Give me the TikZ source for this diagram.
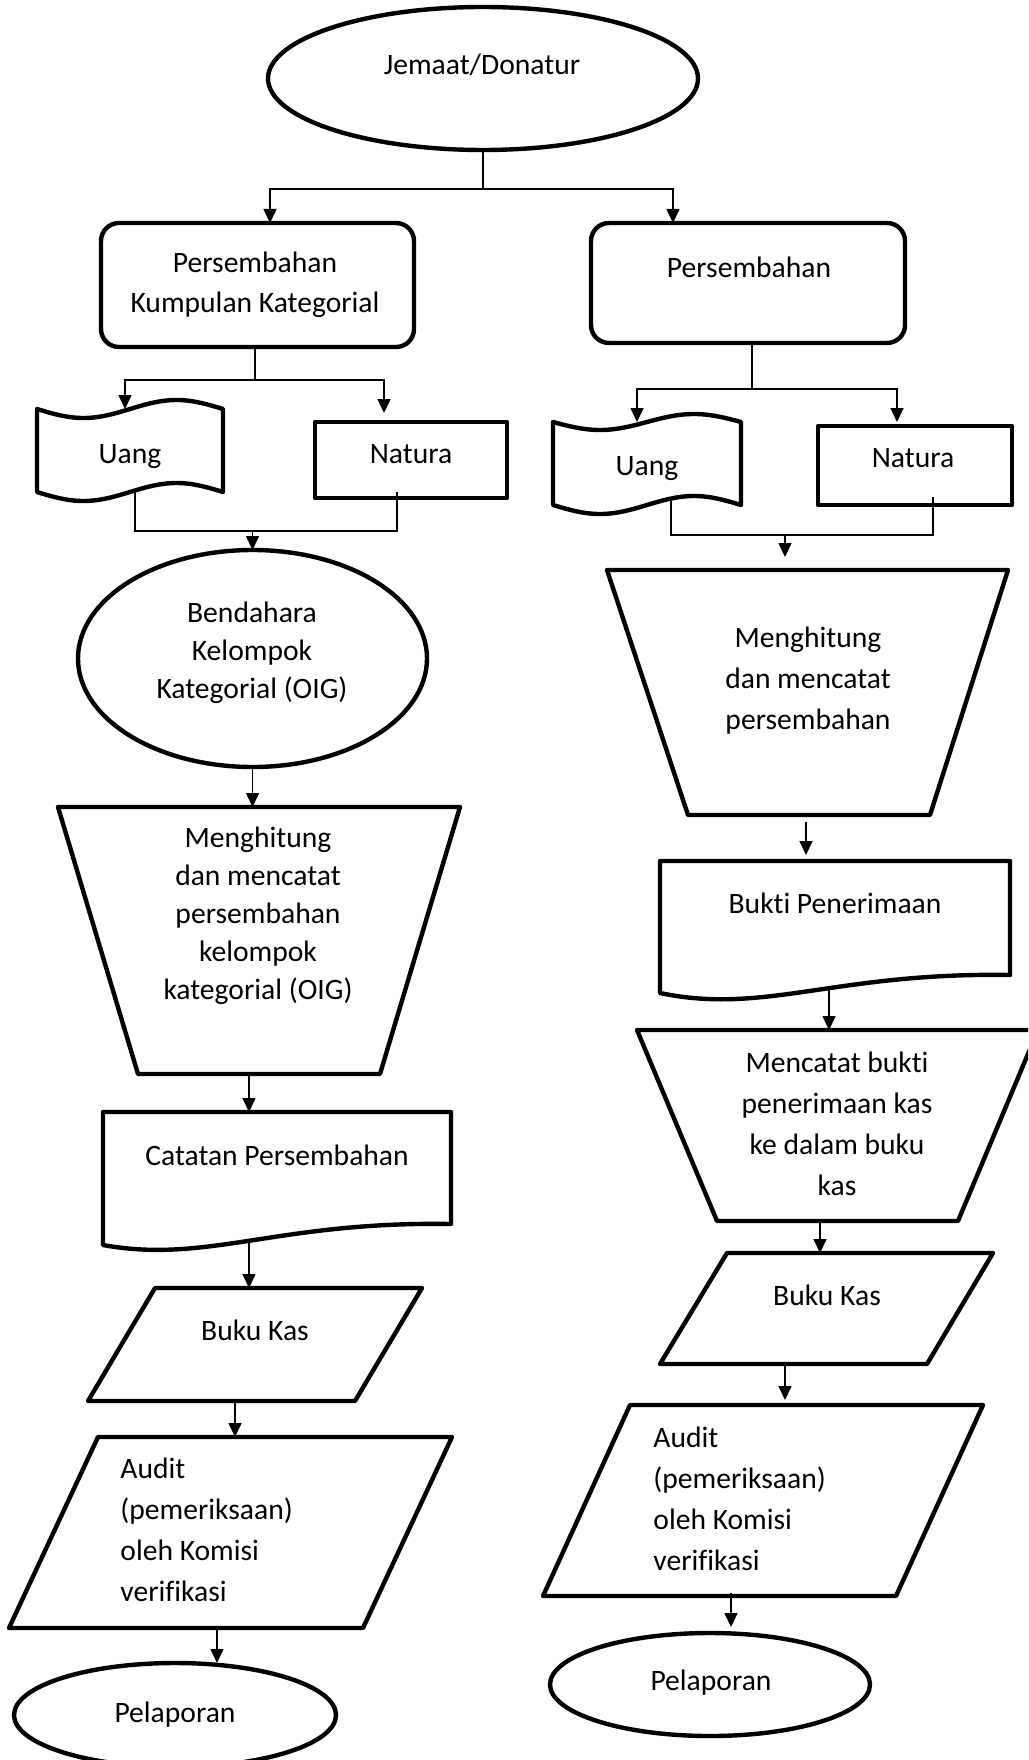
\documentclass[tikz,border=0pt]{standalone}
\usepackage{fontspec}
\setmainfont{Carlito}[Ligatures=NoCommon]
\usetikzlibrary{shapes.geometric,arrows.meta}
\newcommand{\ts}{\rule{0pt}{11.8pt}}
\begin{document}
\begin{tikzpicture}[x=0.5pt,y=-0.5pt,
  outline/.style={draw=black,line width=2.2pt,line join=round},
  box/.style={rectangle,inner sep=0pt,outer sep=0pt},
  shp/.style={outline,inner sep=0pt,outer sep=0pt},
  txt/.style={font={\fontsize{14.8pt}{20.5pt}\selectfont},align=center,inner sep=0pt,anchor=north},
  txtn/.style={font={\fontsize{14.8pt}{19pt}\selectfont},align=center,inner sep=0pt,anchor=north},
  txtl/.style={font={\fontsize{14.8pt}{20.5pt}\selectfont},align=left,inner sep=0pt,anchor=north west},
  link/.style={draw=black,line width=0.8pt},
  arr/.style={link,-{Triangle[length=7pt,width=6.5pt]}}]
\useasboundingbox (0,0) rectangle (1028,1760);
\fill[white] (0,0) rectangle (1028,1760);
\clip (0,0) rectangle (1028,1760);

% ---------- shapes ----------
\node[shp,ellipse,minimum width=215pt,minimum height=71.5pt] (jem) at (483,78.5) {};
\node[shp,rounded corners=9pt,minimum width=156.5pt,minimum height=62pt] (pkk) at (257.5,285) {};
\node[shp,rounded corners=9pt,minimum width=157pt,minimum height=60pt] (pr) at (748,283) {};

% punched-tape shapes (Uang)
\node[box,minimum width=93pt,minimum height=41.5pt] (uang1) at (130,450.5) {};
\draw[outline] (37,409) sin (83.5,418) cos (130,409) sin (176.5,400) cos (223,409)
  -- (223,492) sin (176.5,483) cos (130,492) sin (83.5,501) cos (37,492) -- cycle;
\node[box,minimum width=94pt,minimum height=41.5pt] (uang2) at (647,463.5) {};
\draw[outline] (553,422) sin (600,430) cos (647,422) sin (694,414) cos (741,422)
  -- (741,505) sin (694,496) cos (647,505) sin (600,514) cos (553,505) -- cycle;

\node[shp,minimum width=96pt,minimum height=38pt] (nat1) at (411,460) {};
\node[shp,minimum width=97pt,minimum height=39.5pt] (nat2) at (915,465.5) {};

\node[shp,ellipse,minimum width=174.5pt,minimum height=108.5pt] (bend) at (252.5,658.5) {};

% manual operations (trapezoids)
\node[box,minimum width=201pt,minimum height=133.5pt] (t1) at (259,940.5) {};
\draw[outline] (58,807) -- (460,807) -- (380,1074) -- (138,1074) -- cycle;
\node[box,minimum width=200.5pt,minimum height=122.5pt] (t2) at (807.5,692.5) {};
\draw[outline] (607,570) -- (1008,570) -- (930,815) -- (688,815) -- cycle;
\node[box,minimum width=200.5pt,minimum height=95.5pt] (t3) at (837.5,1125.5) {};
\draw[outline] (637,1030) -- (1038,1030) -- (958,1221) -- (717,1221) -- cycle;

% documents
\node[box,minimum width=174pt,minimum height=56pt] (d1) at (277,1168) {};
\draw[outline] (103,1112) -- (451,1112) -- (451,1224)
  .. controls (277,1221) and (207.4,1264) .. (103,1245) -- cycle;
\node[box,minimum width=175pt,minimum height=57pt] (d2) at (835,918) {};
\draw[outline] (660,861) -- (1010,861) -- (1010,975)
  .. controls (835,972) and (765,1015) .. (660,993) -- cycle;

% data (parallelograms)
\node[box,minimum width=167pt,minimum height=56.5pt] (p1) at (255,1344.5) {};
\draw[outline] (155,1288) -- (422,1288) -- (355,1401) -- (88,1401) -- cycle;
\node[box,minimum width=221.5pt,minimum height=95.5pt] (a1) at (230.5,1532.5) {};
\draw[outline] (98,1437) -- (452,1437) -- (363,1628) -- (9,1628) -- cycle;
\node[box,minimum width=166.5pt,minimum height=55.5pt] (p2) at (826.5,1308.5) {};
\draw[outline] (727,1253) -- (993,1253) -- (927,1364) -- (660,1364) -- cycle;
\node[box,minimum width=220pt,minimum height=95.5pt] (a2) at (763,1500.5) {};
\draw[outline] (630,1405) -- (983,1405) -- (896,1596) -- (543,1596) -- cycle;

\node[shp,ellipse,minimum width=161pt,minimum height=52pt] (pel1) at (175,1715) {};
\node[shp,ellipse,minimum width=160pt,minimum height=51.5pt] (pel2) at (710,1684.5) {};

% ---------- texts ----------
\node[txt] (jemT) at (482,51) {\ts Jemaat/Donatur};
\node[txt,font={\fontsize{14.8pt}{20pt}\selectfont}] (pkkT) at (255,248) {\ts Persembahan\\Kumpulan Kategorial};
\node[txt] (prT) at (749,254) {\ts Persembahan};
\node[txt] (uang1T) at (130,439) {\ts Uang};
\node[txt] (nat1T) at (411,439) {\ts Natura};
\node[txt] (uang2T) at (647,451) {\ts Uang};
\node[txt] (nat2T) at (913,443) {\ts Natura};
\node[txtn] (bendT) at (252,598) {\ts Bendahara\\Kelompok\\Kategorial (OIG)};
\node[txtn] (t1T) at (258,823) {\ts Menghitung\\dan mencatat\\persembahan\\kelompok\\kategorial (OIG)};
\node[txt] (t2T) at (808,623) {\ts Menghitung\\dan mencatat\\persembahan};
\node[txt] (d1T) at (277,1141) {\ts Catatan Persembahan};
\node[txt] (d2T) at (835,889) {\ts Bukti Penerimaan};
\node[txt] (t3T) at (837,1048) {\ts Mencatat bukti\\penerimaan kas\\ke dalam buku\\kas};
\node[txt] (p1T) at (255,1316) {\ts Buku Kas};
\node[txt] (p2T) at (827,1281) {\ts Buku Kas};
\node[txtl] (a1T) at (120,1454) {\ts Audit\\(pemeriksaan)\\oleh Komisi\\verifikasi};
\node[txtl] (a2T) at (653,1423) {\ts Audit\\(pemeriksaan)\\oleh Komisi\\verifikasi};
\node[txt] (pel1T) at (175,1698) {\ts Pelaporan};
\node[txt] (pel2T) at (711,1666) {\ts Pelaporan};

% ---------- connectors ----------
\coordinate (j1) at (483,189);
\draw[link] (jem.south) -- (j1);
\draw[arr] (j1) -| ([xshift=6.25pt]pkk.north);
\draw[arr] (j1) -| ([xshift=-37.5pt]pr.north);

\coordinate (k1) at (255,380);
\draw[link] (pkk.south -| k1) -- (k1);
\draw[arr] (k1) -| ([xshift=-2.5pt]uang1.north);
\draw[arr,shorten >=4.5pt] (k1) -| ([xshift=-13.5pt]nat1.north);

\coordinate (m1) at (252.5,531);
\draw[link] ([xshift=2.5pt]uang1.south) |- (m1) -| ([xshift=-7pt,yshift=3pt]nat1.south);
\draw[arr] (m1) -- (bend.north);
\draw[arr] (bend.south) -- (bend.south |- t1.north);
\draw[arr] ([xshift=-5pt]t1.south) -- ([xshift=-5pt]t1.south |- d1.north);
\draw[arr] ([xshift=-14pt,yshift=-8.5pt]d1.south) -- ([xshift=-14pt]d1.south |- p1.north);
\draw[arr] ([xshift=-10pt]p1.south) -- ([xshift=-10pt]p1.south |- a1.north);
\draw[arr] ([xshift=-6.75pt]a1.south) -- ([xshift=-6.75pt]a1.south |- pel1.north);

\coordinate (k2) at (752,389);
\draw[link] (pr.south -| k2) -- (k2);
\draw[arr] (k2) -| ([xshift=-5pt]uang2.north);
\draw[arr,shorten >=2pt] (k2) -| ([xshift=-9pt]nat2.north);

\coordinate (m2) at (785,535);
\draw[link] ([xshift=12pt,yshift=3.5pt]uang2.south) |- (m2) -| ([xshift=9pt,yshift=4pt]nat2.south);
\draw[arr,shorten >=6.5pt] (m2) -- (m2 |- t2.north);
\draw[arr,shorten <=3.5pt,shorten >=3pt] ([xshift=-0.75pt]t2.south) -- ([xshift=-0.75pt]t2.south |- d2.north);
\draw[arr] ([xshift=-3pt,yshift=-6.5pt]d2.south) -- ([xshift=-3pt]d2.south |- t3.north);
\draw[arr] ([xshift=-8.75pt]t3.south) -- ([xshift=-8.75pt]t3.south |- p2.north);
\draw[arr,shorten >=2.5pt] ([xshift=-20.75pt]p2.south) -- ([xshift=-20.75pt]p2.south |- a2.north);
\draw[arr,shorten >=3pt] ([xshift=-16pt,yshift=1.5pt]a2.south) -- ([xshift=-16pt]a2.south |- pel2.north);
\end{tikzpicture}
\end{document}
